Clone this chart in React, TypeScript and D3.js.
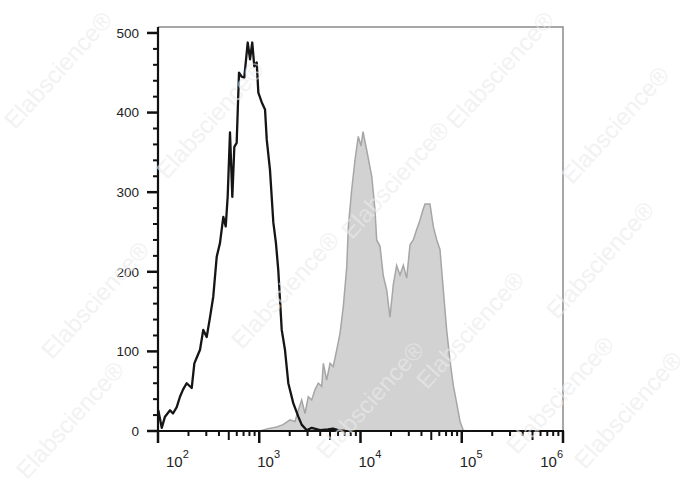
import { useEffect, useRef } from "react"
import * as d3 from "d3"

// control (open black histogram): log10 fluorescence vs count
const controlLog = [
  2.003, 2.037, 2.069, 2.119, 2.148, 2.185, 2.217, 2.247, 2.283, 2.333, 2.359, 2.382,
  2.415, 2.447, 2.481, 2.514, 2.546, 2.58, 2.612, 2.645, 2.669, 2.688, 2.711, 2.734,
  2.754, 2.777, 2.8, 2.827, 2.852, 2.886, 2.909, 2.931, 2.951, 2.975, 2.991, 3.024,
  3.057, 3.074, 3.106, 3.139, 3.165, 3.188, 3.222, 3.254, 3.287, 3.336, 3.386, 3.419,
  3.469, 3.518, 3.6, 3.679, 3.728, 3.778, 3.847,
]
const controlCount = [
  26, 4, 18, 26, 22, 30, 43, 52, 60, 54, 85, 92,
  102, 127, 118, 143, 169, 219, 236, 269, 257, 294, 375, 294,
  357, 362, 450, 445, 444, 488, 467, 488, 458, 463, 425, 413,
  404, 366, 328, 262, 236, 202, 127, 102, 60, 35, 18, 8,
  1, 4, 1, 2, 3, 1, 0,
]

// stained sample (filled grey histogram)
const sampleLog = [
  3.007, 3.086, 3.172, 3.235, 3.304, 3.353, 3.386, 3.419, 3.452, 3.484, 3.518, 3.551,
  3.583, 3.617, 3.633, 3.666, 3.699, 3.731, 3.765, 3.798, 3.83, 3.864, 3.88, 3.913,
  3.946, 3.978, 4.005, 4.025, 4.061, 4.111, 4.143, 4.16, 4.193, 4.225, 4.259, 4.291,
  4.324, 4.357, 4.39, 4.423, 4.456, 4.489, 4.521, 4.555, 4.588, 4.617, 4.637, 4.686,
  4.719, 4.753, 4.785, 4.818, 4.851, 4.884, 4.917, 4.95, 4.983, 5.015, 5.042,
]
const sampleCount = [
  0, 3, 5, 8, 14, 12, 26, 39, 22, 43, 39, 52,
  60, 56, 85, 64, 85, 81, 102, 123, 156, 206, 257, 303,
  341, 370, 358, 376, 353, 320, 278, 240, 232, 195, 177, 143,
  184, 208, 196, 208, 192, 234, 240, 253, 265, 278, 285, 285,
  257, 240, 228, 177, 127, 88, 57, 35, 12, 1, 0,
]

const decades = [2, 3, 4, 5, 6]
const yTicks = [0, 100, 200, 300, 400, 500]

// watermark centres (approximate)
const marks: [number, number][] = [
  [58, 70], [210, 120], [500, 70], [615, 125], [395, 180], [95, 300],
  [285, 290], [600, 260], [470, 330], [370, 400], [560, 395], [70, 420], [628, 410],
]

export default function App() {
  const svgRef = useRef<SVGSVGElement>(null)

  useEffect(() => {
    const svg = d3.select(svgRef.current)
    svg.selectAll("*").remove()

    const left = 158, right = 563, top = 27, bottom = 431
    const x = d3.scaleLinear().domain([2, 6]).range([left, right])
    const y = d3.scaleLinear().domain([0, 507.5]).range([bottom, top])
    const font = "Arial, 'Liberation Sans', sans-serif"

    svg.append("rect").attr("width", 688).attr("height", 490).attr("fill", "#fff")

    const sample = sampleLog.map((v, i) => ({ v, c: sampleCount[i] }))
    const control = controlLog.map((v, i) => ({ v, c: controlCount[i] }))

    svg.append("path")
      .datum(sample)
      .attr("fill", "#d2d2d2")
      .attr("stroke", "#a6a6a6")
      .attr("stroke-width", 1.5)
      .attr("d", d3.area<{ v: number; c: number }>()
        .x(d => x(d.v)).y0(y(0)).y1(d => y(d.c)))

    svg.append("path")
      .datum(control)
      .attr("fill", "none")
      .attr("stroke", "#151515")
      .attr("stroke-width", 2.3)
      .attr("stroke-linejoin", "round")
      .attr("d", d3.line<{ v: number; c: number }>().x(d => x(d.v)).y(d => y(d.c)))

    // frame: grey top/right, black left/bottom
    svg.append("path")
      .attr("d", `M${left},${top}H${right}V${bottom}`)
      .attr("fill", "none").attr("stroke", "#8a8a8a").attr("stroke-width", 1.5)
    svg.append("path")
      .attr("d", `M${left},${top}V${bottom}H${right + 1}`)
      .attr("fill", "none").attr("stroke", "#111").attr("stroke-width", 2.2)

    // y ticks
    const yg = svg.append("g")
    d3.range(0, 501, 20).forEach(v => {
      const major = v % 100 === 0
      yg.append("line")
        .attr("x1", left - (major ? 11 : 5)).attr("x2", left)
        .attr("y1", y(v)).attr("y2", y(v))
        .attr("stroke", "#111").attr("stroke-width", major ? 2.5 : 2)
    })
    yTicks.forEach(v => {
      yg.append("text")
        .attr("x", 139).attr("y", y(v)).attr("dy", "0.36em")
        .attr("text-anchor", "end")
        .attr("font-family", font).attr("font-size", 13.5).attr("fill", "#222")
        .text(v)
    })

    // x ticks (log decades)
    const xg = svg.append("g")
    decades.forEach(d => {
      xg.append("line")
        .attr("x1", x(d)).attr("x2", x(d)).attr("y1", bottom).attr("y2", bottom + 12)
        .attr("stroke", "#111").attr("stroke-width", 2.5)
      if (d < 6) {
        d3.range(2, 10).forEach(k => {
          const p = x(d + Math.log10(k))
          xg.append("line")
            .attr("x1", p).attr("x2", p).attr("y1", bottom).attr("y2", bottom + (k === 5 ? 9 : 5))
            .attr("stroke", "#111").attr("stroke-width", 2)
        })
      }
    })
    decades.forEach((d, i) => {
      const last = i === decades.length - 1
      const px = i === 0 ? x(d) + 8 : last ? x(d) : x(d) - 2
      const t = xg.append("text")
        .attr("x", px).attr("y", 467)
        .attr("text-anchor", last ? "end" : "start")
        .attr("font-family", font).attr("fill", "#222")
      t.append("tspan").attr("font-size", 15).text("10")
      t.append("tspan").attr("font-size", 11).attr("dy", -9).text(d)
    })

    // watermark overlay
    const wm = svg.append("g")
    marks.forEach(([cx, cy]) => {
      wm.append("text")
        .attr("transform", `translate(${cx},${cy}) rotate(-48)`)
        .attr("text-anchor", "middle").attr("dy", "0.35em")
        .attr("font-family", font).attr("font-size", 24)
        .attr("fill", "#ebebeb").attr("opacity", 0.6)
        .text("Elabscience®")
    })
  }, [])

  return (
    <svg ref={svgRef} width={688} height={490}
      style={{ position: "absolute", left: 0, top: 0 }} />
  )
}
